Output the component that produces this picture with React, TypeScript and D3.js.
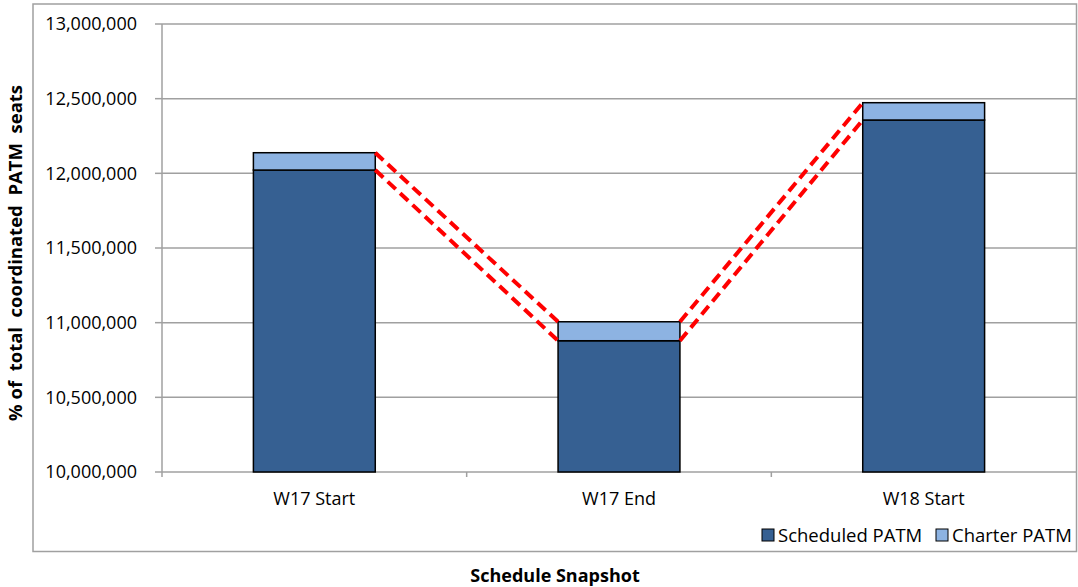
import React from 'react';
import * as d3 from 'd3';

const categories = ['W17 Start', 'W17 End', 'W18 Start'];
const scheduled = [12022000, 10879000, 12357000];
const charter = [116000, 127000, 116000];
const yTicks = [10000000, 10500000, 11000000, 11500000, 12000000, 12500000, 13000000];
const seriesNames = ['Scheduled PATM', 'Charter PATM'];
const seriesColors = ['#366092', '#8db3e2'];

const width = 1078;
const height = 587;

const App: React.FC = () => {
    const left = 162;
    const right = 1076;
    const top = 24;
    const bottom = 472;

    const x = d3.scaleBand<string>().domain(categories).range([left, right]).paddingInner(0.6).paddingOuter(0.3);
    const xOuter = d3.scaleBand<string>().domain(categories).range([left, right]);
    const y = d3.scaleLinear().domain([10000000, 13000000]).range([bottom, top]);
    const fmt = d3.format(',');
    const font = '"Open Sans", "Liberation Sans", sans-serif';

    const totals = scheduled.map((s, i) => s + charter[i]);

    // dashed connectors between bars
    const connectors: { x1: number; y1: number; x2: number; y2: number }[] = [];
    for (let i = 0; i < categories.length - 1; i++) {
        const x1 = (x(categories[i]) || 0) + x.bandwidth();
        const x2 = x(categories[i + 1]) || 0;
        connectors.push({ x1, y1: y(totals[i]), x2, y2: y(totals[i + 1]) });
        connectors.push({ x1, y1: y(scheduled[i]), x2, y2: y(scheduled[i + 1]) });
    }

    return (
        <svg width={width} height={height} style={{ position: 'absolute', left: 0, top: 0, background: 'white' }}>
            <rect x={33} y={4} width={1043.5} height={547.5} fill="white" stroke="#a0a0a0" strokeWidth={1.5} />

            {/* gridlines + y ticks */}
            {yTicks.map(t => (
                <g key={t}>
                    <line x1={left} x2={right} y1={y(t)} y2={y(t)} stroke="#a0a0a0" strokeWidth={1.5} />
                    <line x1={155} x2={left} y1={y(t)} y2={y(t)} stroke="#a0a0a0" strokeWidth={1.5} />
                    <text x={137} y={y(t)} dy="0.36em" textAnchor="end" fontFamily={font} fontSize={18} fill="#000">
                        {fmt(t)}
                    </text>
                </g>
            ))}
            <line x1={left} x2={left} y1={top} y2={bottom + 5} stroke="#a0a0a0" strokeWidth={1.5} />

            {/* x ticks at category boundaries */}
            {categories.slice(1).map(c => (
                <line key={c} x1={xOuter(c)} x2={xOuter(c)} y1={bottom} y2={bottom + 5} stroke="#a0a0a0" strokeWidth={1.5} />
            ))}
            {categories.map(c => (
                <text key={c} x={(xOuter(c) || 0) + xOuter.bandwidth() / 2} y={505} textAnchor="middle" fontFamily={font} fontSize={18} fill="#000">
                    {c}
                </text>
            ))}

            {/* stacked bars */}
            {categories.map((c, i) => (
                <g key={c}>
                    <rect x={x(c)} y={y(scheduled[i])} width={x.bandwidth()} height={y(10000000) - y(scheduled[i])}
                        fill={seriesColors[0]} stroke="#000" strokeWidth={1.5} />
                    <rect x={x(c)} y={y(totals[i])} width={x.bandwidth()} height={y(scheduled[i]) - y(totals[i])}
                        fill={seriesColors[1]} stroke="#000" strokeWidth={1.5} />
                </g>
            ))}

            {connectors.map((l, i) => (
                <line key={i} x1={l.x1} y1={l.y1} x2={l.x2} y2={l.y2} stroke="#ff0000" strokeWidth={4} strokeDasharray="11,6" />
            ))}

            {/* legend */}
            <rect x={762} y={529} width={12} height={12} fill={seriesColors[0]} stroke="#000" strokeWidth={1} />
            <text x={778} y={542} fontFamily={font} fontSize={18.5} fill="#000">{seriesNames[0]}</text>
            <rect x={936} y={529} width={12} height={12} fill={seriesColors[1]} stroke="#000" strokeWidth={1} />
            <text x={952} y={542} fontFamily={font} fontSize={18.5} fill="#000">{seriesNames[1]}</text>

            {/* axis titles */}
            <text x={555} y={582} textAnchor="middle" fontFamily={font} fontSize={18} fontWeight="bold" fill="#000">
                Schedule Snapshot
            </text>
            <text transform="translate(22,253) rotate(-90)" textAnchor="middle" fontFamily={font} fontSize={18.5} fontWeight="bold" fill="#000"
                style={{ whiteSpace: 'pre' }}>
                {'% of  total  coordinated  PATM  seats'}
            </text>
        </svg>
    );
};

export default App;
